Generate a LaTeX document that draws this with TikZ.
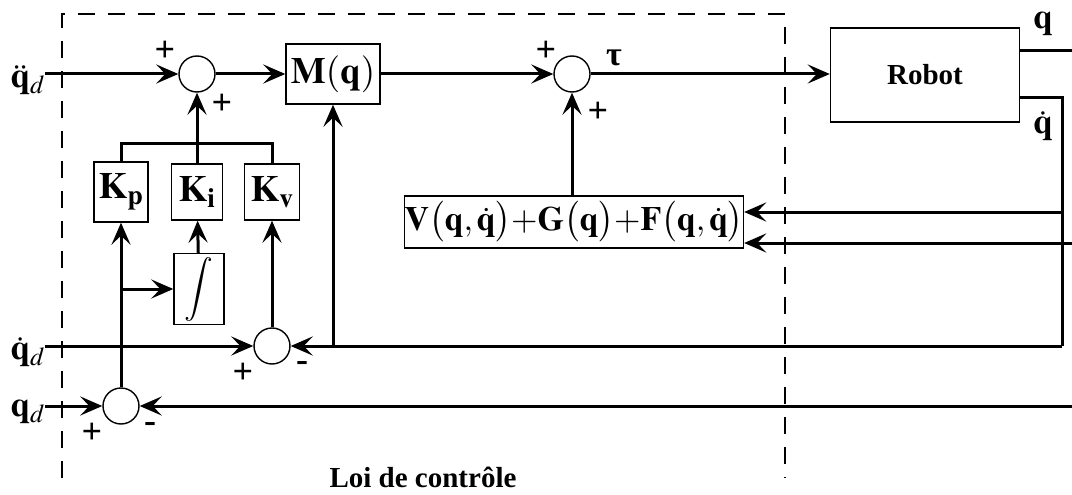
\documentclass[tikz,border=0pt]{standalone}
\usepackage{amsmath}
\usepackage{mathptmx}
\usepackage[no-math]{fontspec}
\setmainfont{Liberation Serif}
\usetikzlibrary{arrows.meta,positioning}
\tikzset{
  sum/.style={circle,draw,line width=1.4pt,minimum size=36pt,inner sep=0pt},
  block/.style={draw,line width=1.4pt,inner sep=0pt,font=\fontsize{37}{40}\selectfont},
  sig/.style={line width=3pt,-{Stealth[length=22pt,width=19pt,inset=9pt]}},
  wire/.style={line width=3pt},
  sign/.style={font=\bfseries\fontsize{36}{40}\selectfont,inner sep=0pt},
  lbl/.style={font=\fontsize{35}{38}\selectfont,inner sep=0pt},
  frame/.style={line width=1.3pt,dash pattern=on 17pt off 13pt}
}
\begin{document}
\begin{tikzpicture}[x=1pt,y=-1pt]
\useasboundingbox (0,0) rectangle (1072,495);
% cadre de la loi de contrôle
\draw[frame] (62,478) -- (62,14) -- (785,14) -- (785,478);
\node[font=\bfseries\fontsize{29}{32}\selectfont] (loi) at (423,477) {Loi de contrôle};
% sommateurs et blocs
\node[sum] (S1) at (197,74) {};
\node[sum] (S2) at (572,74) {};
\node[sum] (Sv) at (272,346) {};
\node[sum] (Sq) at (121,406) {};
\node[block,minimum width=94pt,minimum height=60pt] (M) at (333,74) {$\mathbf{M}(\mathbf{q})$};
\node[block,minimum width=189pt,minimum height=94pt,font=\bfseries\fontsize{29}{32}\selectfont] (R) at (925,75) {Robot};
\node[block,minimum width=54pt,minimum height=60pt] (Kp) at (121,192) {$\mathbf{K}_{\mathbf{p}}$};
\node[block,minimum width=51pt,minimum height=56pt] (Ki) at (197,192) {$\mathbf{K}_{\mathbf{i}}$};
\node[block,minimum width=55pt,minimum height=56pt] (Kv) at (272,192) {$\mathbf{K}_{\mathbf{v}}$};
\node[block,minimum width=50pt,minimum height=71pt,font=\fontsize{32}{36}\selectfont] (Int) at (199,289) {$\displaystyle\int$};
\node[block,minimum width=337pt,minimum height=52pt,font=\fontsize{34}{38}\selectfont] (V) at (574,222)
  {$\mathbf{V}\bigl(\mathbf{q},\dot{\mathbf{q}}\bigr){+}\mathbf{G}\bigl(\mathbf{q}\bigr){+}\mathbf{F}\bigl(\mathbf{q},\dot{\mathbf{q}}\bigr)$};
% entrées et sorties
\coordinate (in1) at (45,74);
\coordinate (in2) at (45,346);
\coordinate (in3) at (45,406);
\node[lbl,anchor=east] (qdd) at (in1) [yshift=-6pt] {$\ddot{\mathbf{q}}_d$};
\node[lbl,anchor=east] (qd1) at (in2) [yshift=-6pt] {$\dot{\mathbf{q}}_d$};
\node[lbl,anchor=east] (qd0) at (in3) [yshift=-6pt] {$\mathbf{q}_d$};
\coordinate (qout) at (1072,51);
\coordinate (c1) at (1062,98);
\coordinate (c2) at (1062,346);
\coordinate (fbv) at (1062,212);
\coordinate (fbq) at (1072,243);
\coordinate (fbq2) at (1072,406);
\coordinate (bus) at (197,143);
\node[lbl] (qlab) at (1043,24) {$\mathbf{q}$};
\node[lbl] (qdlab) at (1043,126) {$\dot{\mathbf{q}}$};
\node[font=\bfseries\fontsize{34}{38}\selectfont] (tau) at (614,58) {τ};
% signes
\node[sign] at (165,51) {+};
\node[sign] at (222,104) {+};
\node[sign] at (546,51) {+};
\node[sign] at (598,112) {+};
\node[sign] at (243,373) {+};
\node[sign] at (302,366) {-};
\node[sign] at (92,433) {+};
\node[sign] at (150,427) {-};
% liaisons
\draw[sig] (in1) -- (S1);
\draw[sig] (S1) -- (M);
\draw[sig] (M) -- (S2);
\draw[sig] (S2) -- (R.west |- S2);
\draw[wire] (R.east |- qout) -- (qout);
\draw[wire] (R.east |- c1) -- (c1) -- (c2);
\draw[sig] (fbv) -- (V.east |- fbv);
\draw[sig] (fbq) -- (V.east |- fbq);
\draw[sig] (V.north -| S2) -- (S2);
\draw[sig] (c2) -- (Sv);
\draw[sig] (M |- Sv) -- (M);
\draw[sig] (fbq2) -- (Sq);
\draw[sig] (in2) -- (Sv);
\draw[sig] (in3) -- (Sq);
\draw[sig] (Sq) -- (Kp);
\draw[sig] (Sq |- Int) -- (Int);
\draw[sig] (Int) -- (Ki);
\draw[sig] (Sv) -- (Kv);
\draw[wire] (Kp.north) |- (bus) -| (Kv.north);
\draw[sig] (Ki) -- (S1);
\end{tikzpicture}
\end{document}
